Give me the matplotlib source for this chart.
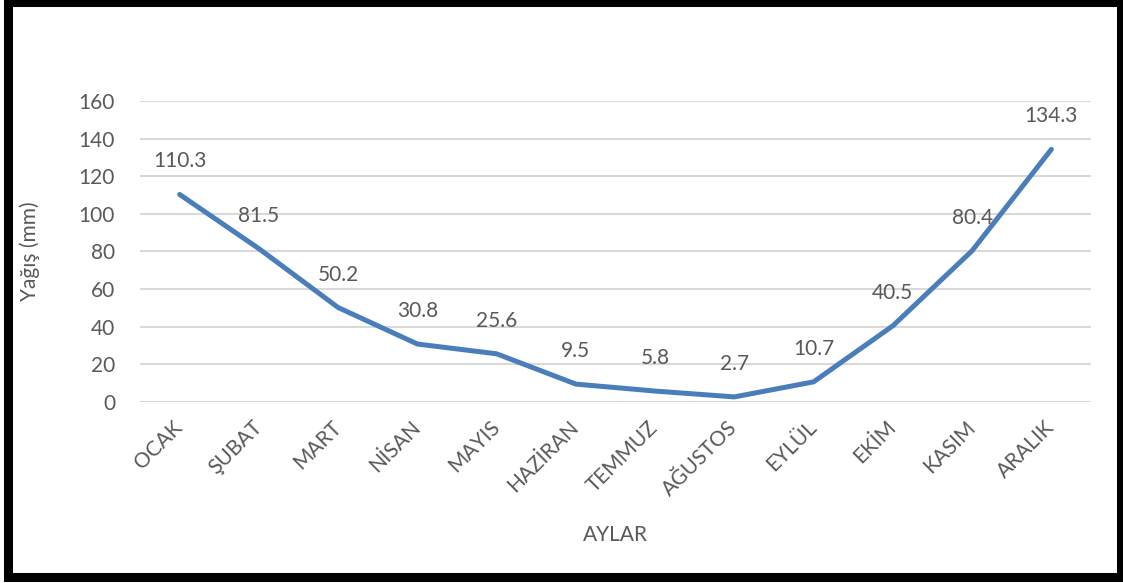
import matplotlib.pyplot as plt
from matplotlib.patches import Rectangle

months = ['OCAK', 'ŞUBAT', 'MART', 'NİSAN', 'MAYIS', 'HAZİRAN',
          'TEMMUZ', 'AĞUSTOS', 'EYLÜL', 'EKİM', 'KASIM', 'ARALIK']
rain = [110.3, 81.5, 50.2, 30.8, 25.6, 9.5, 5.8, 2.7, 10.7, 40.5, 80.4, 134.3]
yticks = [0, 20, 40, 60, 80, 100, 120, 140, 160]

plt.rcParams['font.family'] = ['Lato', 'DejaVu Sans']
txt = '#595959'
fs = 15

fig = plt.figure(figsize=(11.23, 5.83), dpi=100)
ax = fig.add_axes([0.1247, 0.3105, 0.8468, 0.5163])

x = list(range(len(months)))
ax.plot(x, rain, color='#4a7ebb', lw=3.6, solid_capstyle='round', zorder=3)
for xi, v in zip(x, rain):
    ax.annotate(f'{v}', (xi, v), xytext=(0, 33), textcoords='offset pixels',
                ha='center', va='center', fontsize=fs, color=txt)

ax.set_xlim(-0.5, len(months) - 0.5)
ax.set_ylim(0, 160)
ax.set_yticks(yticks)
ax.set_xticks(x)
ax.set_xticklabels(months, rotation=45, ha='right', va='center',
                   rotation_mode='anchor', fontsize=fs, color=txt)
ax.tick_params(axis='y', labelsize=fs, labelcolor=txt, length=0, pad=18)
ax.tick_params(axis='x', length=0, pad=16)
ax.grid(axis='y', color='#d9d9d9', lw=1.5)
ax.set_axisbelow(True)
for s in ax.spines.values():
    s.set_visible(False)

ax.set_ylabel('Yağış (mm)', fontsize=fs, color=txt, labelpad=28)
ax.set_xlabel('AYLAR', fontsize=fs, color=txt, labelpad=18)

fig.patches.append(Rectangle((0.0067, 0.0103), 0.9911, 0.9871, transform=fig.transFigure,
                             fill=False, edgecolor='black', lw=6.5, zorder=10))

fig.savefig('out.png', dpi=100)
